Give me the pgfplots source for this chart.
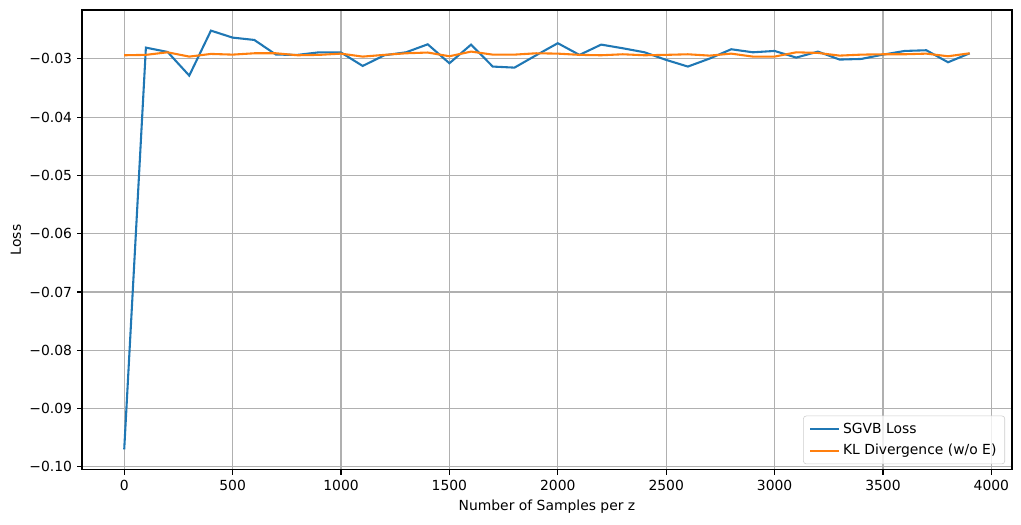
\documentclass[border=0pt]{standalone}
\usepackage{fontspec}
\setmainfont{DejaVu Sans}
\usepackage{pgfplots}
\pgfplotsset{compat=1.18}
\usetikzlibrary{calc}
\definecolor{mplBlue}{HTML}{1F77B4}
\definecolor{mplOrange}{HTML}{FF7F0E}
\definecolor{gridGray}{HTML}{B0B0B0}
\definecolor{legGray}{HTML}{CCCCCC}

\pgfplotstableread{
x     sgvb      kl
0     -0.0970   -0.02937
100   -0.02806  -0.02930
200   -0.02880  -0.02886
300   -0.03286  -0.02960
400   -0.02514  -0.02914
500   -0.02634  -0.02926
600   -0.02674  -0.02903
700   -0.02926  -0.02903
800   -0.02930  -0.02937
900   -0.02886  -0.02930
1000  -0.02890  -0.02909
1100  -0.03120  -0.02960
1200  -0.02937  -0.02930
1300  -0.02886  -0.02903
1400  -0.02749  -0.02890
1500  -0.03074  -0.02954
1600  -0.02754  -0.02874
1700  -0.03131  -0.02926
1800  -0.03149  -0.02926
1900  -0.02937  -0.02903
2000  -0.02730  -0.02909
2100  -0.02931  -0.02930
2200  -0.02754  -0.02937
2300  -0.02817  -0.02920
2400  -0.02886  -0.02937
2500  -0.03017  -0.02930
2600  -0.03131  -0.02920
2700  -0.02994  -0.02943
2800  -0.02834  -0.02909
2900  -0.02886  -0.02960
3000  -0.02863  -0.02960
3100  -0.02977  -0.02886
3200  -0.02874  -0.02897
3300  -0.03011  -0.02943
3400  -0.03000  -0.02926
3500  -0.02926  -0.02920
3600  -0.02863  -0.02920
3700  -0.02851  -0.02909
3800  -0.03057  -0.02954
3900  -0.02903  -0.02903
}\losstable

\begin{document}
\begin{tikzpicture}
\begin{axis}[
    name=ax,
    scale only axis,
    width=669.6pt, height=331pt,
    font=\fontsize{10}{12}\selectfont,
    xmin=-195, xmax=4095,
    ymin=-0.1005, ymax=-0.0216,
    xtick={0,500,...,4000},
    ytick={-0.10,-0.09,-0.08,-0.07,-0.06,-0.05,-0.04,-0.03},
    yticklabels={−0.10,−0.09,−0.08,−0.07,−0.06,−0.05,−0.04,−0.03},
    /pgf/number format/assume math mode=true,
    scaled x ticks=false,
    xticklabel={\pgfmathprintnumber[fixed,precision=0,1000 sep={}]{\tick}},
    tick align=outside,
    major tick length=3.5pt,
    tick style={black, line width=0.8pt},
    axis line style={line width=0.8pt},
    xtick pos=bottom, ytick pos=left,
    grid=major,
    major grid style={gridGray, line width=0.8pt},
    xticklabel style={inner sep=0pt, yshift=-3.5pt},
    yticklabel style={inner sep=0pt, xshift=-3.5pt},
    xlabel={Number of Samples per z},
    ylabel={Loss},
    xlabel style={at={(axis description cs:0.5,-0.0804)}, anchor=center},
    ylabel style={at={(axis description cs:-0.0709,0.5)}, anchor=center},
    legend cell align=left,
    legend style={at={(1,0)}, anchor=south east, xshift=-5pt, yshift=4pt,
        draw=legGray, rounded corners=2pt, fill=white, fill opacity=0.8,
        text opacity=1, inner xsep=4pt, inner ysep=3pt,
        row sep=2.5pt, font=\fontsize{10}{12}\selectfont},
    legend image code/.code={\draw[#1] (0pt,0pt) -- (21pt,0pt);},
]
\addplot[mplBlue, line width=1.5pt] table[x=x, y=sgvb] {\losstable};
\addlegendentry{SGVB Loss}
\addplot[mplOrange, line width=1.5pt] table[x=x, y=kl] {\losstable};
\addlegendentry{KL Divergence (w/o E)}
\end{axis}
\path ($(ax.south west)+(-59pt,-39.6pt)$) rectangle ($(ax.north east)+(6.5pt,7.2pt)$);
\end{tikzpicture}
\end{document}
